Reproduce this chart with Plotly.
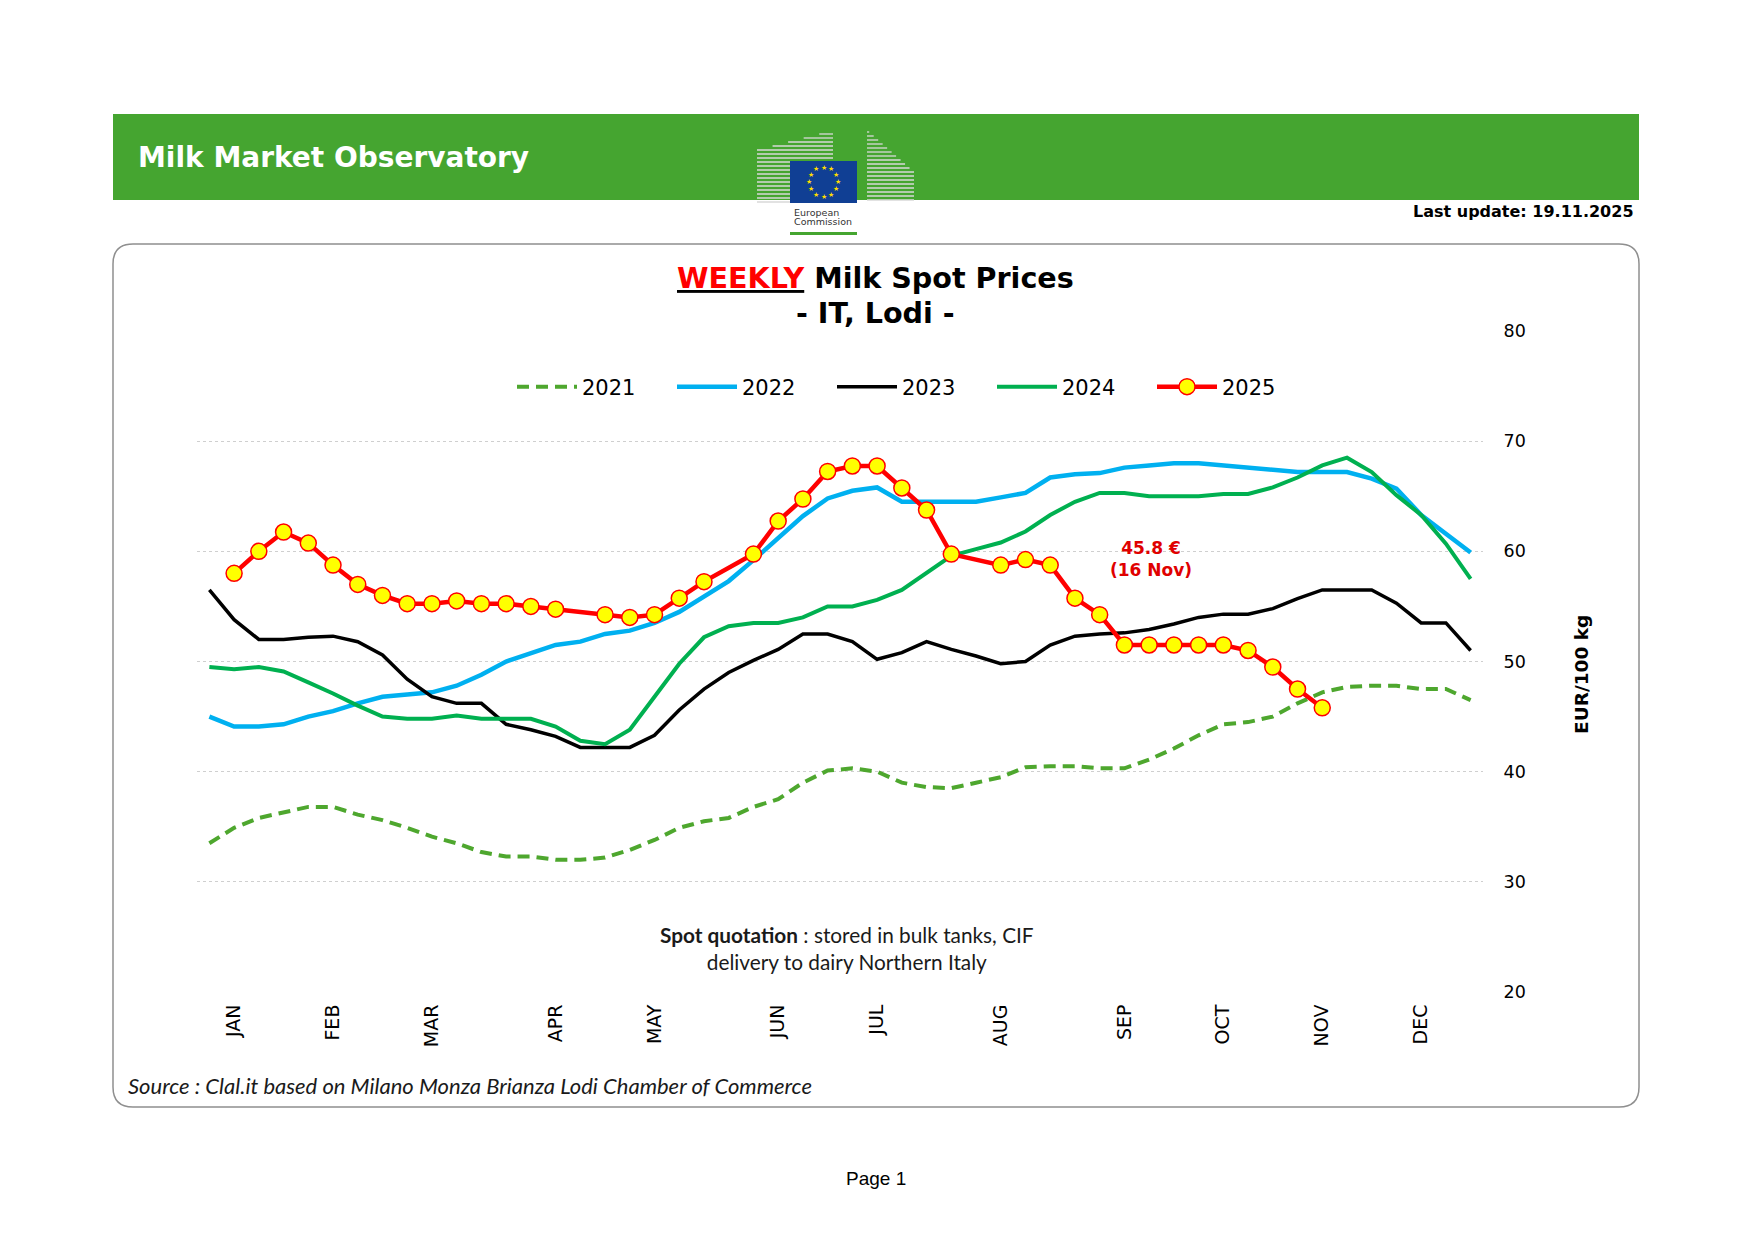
import math
import plotly.graph_objects as go

# weekly Lodi spot milk prices, EUR/100 kg
weeks = list(range(1, 53))
month_weeks = [2, 6, 10, 15, 19, 24, 28, 33, 38, 42, 46, 50]
month_labels = ['JAN', 'FEB', 'MAR', 'APR', 'MAY', 'JUN', 'JUL', 'AUG', 'SEP', 'OCT', 'NOV', 'DEC']
y_ticks = [20, 30, 40, 50, 60, 70, 80]

p2021 = [33.5, 34.9, 35.8, 36.3, 36.8, 36.8, 36.1, 35.6, 34.9, 34.1,
         33.5, 32.7, 32.3, 32.3, 32.0, 32.0, 32.2, 32.9, 33.8, 34.9,
         35.5, 35.8, 36.8, 37.5, 39.0, 40.1, 40.3, 40.0, 39.0, 38.6,
         38.5, 39.0, 39.5, 40.4, 40.5, 40.5, 40.3, 40.3, 41.1, 42.1,
         43.3, 44.3, 44.5, 45.0, 46.2, 47.2, 47.7, 47.8, 47.8, 47.5,
         47.5, 46.5]
p2022 = [45.0, 44.1, 44.1, 44.3, 45.0, 45.5, 46.2, 46.8, 47.0, 47.2,
         47.8, 48.8, 50.0, 50.8, 51.5, 51.8, 52.5, 52.8, 53.5, 54.5,
         55.9, 57.3, 59.2, 61.2, 63.2, 64.8, 65.5, 65.8, 64.5, 64.5,
         64.5, 64.5, 64.9, 65.3, 66.7, 67.0, 67.1, 67.6, 67.8, 68.0,
         68.0, 67.8, 67.6, 67.5, 67.2, 67.2, 67.2, 66.6, 65.7, 63.3,
         61.6, 59.9]
p2023 = [56.5, 53.8, 52.0, 52.0, 52.2, 52.3, 51.8, 50.6, 48.4, 46.8,
         46.2, 46.2, 44.3, 43.8, 43.2, 42.2, 42.2, 42.2, 43.3, 45.6,
         47.5, 49.0, 50.1, 51.1, 52.5, 52.5, 51.8, 50.2, 50.8, 51.8,
         51.1, 50.5, 49.8, 50.0, 51.5, 52.3, 52.5, 52.6, 52.9, 53.4,
         54.0, 54.3, 54.3, 54.8, 55.7, 56.5, 56.5, 56.5, 55.3, 53.5,
         53.5, 51.0]
p2024 = [49.5, 49.3, 49.5, 49.1, 48.1, 47.1, 46.0, 45.0, 44.8, 44.8,
         45.1, 44.8, 44.8, 44.8, 44.1, 42.8, 42.5, 43.8, 46.8, 49.8,
         52.2, 53.2, 53.5, 53.5, 54.0, 55.0, 55.0, 55.6, 56.5, 58.0,
         59.6, 60.2, 60.8, 61.8, 63.3, 64.5, 65.3, 65.3, 65.0, 65.0,
         65.0, 65.2, 65.2, 65.8, 66.7, 67.8, 68.5, 67.2, 65.1, 63.3,
         60.7, 57.5]
p2025 = [None, 58.0, 60.0, 61.75, 60.75, 58.75, 57.0, 56.0, 55.25, 55.25,
         55.5, 55.25, 55.25, 55.0, 54.75, None, 54.25, 54.0, 54.25, 55.75,
         57.25, None, 59.75, 62.75, 64.75, 67.25, 67.75, 67.75, 65.75, 63.75,
         59.75, None, 58.75, 59.25, 58.75, 55.75, 54.25, 51.5, 51.5, 51.5,
         51.5, 51.5, 51.0, 49.5, 47.5, 45.8]

W, H = 1738, 1224          # page minus the 8px body margin
L, T, PW, PH = 189, 323, 1286, 661
FONT = 'DejaVu Sans'


def xp(X):  # page pixel -> paper
    return (X - 8 - L) / PW


def yp(Y):
    return 1 - (Y - 8 - T) / PH


fig = go.Figure()
fig.add_trace(go.Scatter(x=weeks, y=p2021, name='2021', mode='lines',
                         line=dict(color='#4ea72e', width=4, dash='12px,7px')))
fig.add_trace(go.Scatter(x=weeks, y=p2022, name='2022', mode='lines',
                         line=dict(color='#00b0f0', width=4.5)))
fig.add_trace(go.Scatter(x=weeks, y=p2023, name='2023', mode='lines',
                         line=dict(color='#000000', width=3.5)))
fig.add_trace(go.Scatter(x=weeks, y=p2024, name='2024', mode='lines',
                         line=dict(color='#00b050', width=4)))
fig.add_trace(go.Scatter(x=weeks[:len(p2025)], y=p2025, name='2025', mode='lines+markers',
                         connectgaps=True, line=dict(color='#ff0000', width=4.5),
                         marker=dict(size=16, color='#ffff00', line=dict(color='#ff0000', width=1.5))))

shapes = []
# green banner
shapes.append(dict(type='rect', xref='paper', yref='paper', x0=xp(113), x1=xp(1639),
                   y0=yp(200), y1=yp(114), fillcolor='#45a530', line_width=0, layer='below'))

# rounded frame
x0, x1, y0, y1, r = 113, 1639, 244, 1107, 20
pts = [('M', x0 + r, y0), ('L', x1 - r, y0), ('Q', x1, y0, x1, y0 + r), ('L', x1, y1 - r),
       ('Q', x1, y1, x1 - r, y1), ('L', x0 + r, y1), ('Q', x0, y1, x0, y1 - r),
       ('L', x0, y0 + r), ('Q', x0, y0, x0 + r, y0)]
path = ''
for p in pts:
    c = p[0]
    nums = p[1:]
    seg = []
    for i in range(0, len(nums), 2):
        seg.append('%.5f,%.5f' % (xp(nums[i]), yp(nums[i + 1])))
    path += c + ' '.join(seg) + ' '
path += 'Z'
shapes.append(dict(type='path', xref='paper', yref='paper', path=path,
                   line=dict(color='#8f8f8f', width=1.5), layer='below'))

# EC logo: building stripes, flag, underline
for y in range(134, 204, 4):
    xs = 757 if y >= 150 else 757 + (150 - y) / 18 * 70
    shapes.append(dict(type='line', xref='paper', yref='paper', x0=xp(xs), x1=xp(833),
                       y0=yp(y), y1=yp(y), line=dict(color='#d8d8d8', width=1.3)))
for y in range(132, 204, 4):
    xe = 867 + min(1, (y - 130) / 42) * 47
    shapes.append(dict(type='line', xref='paper', yref='paper', x0=xp(867), x1=xp(xe),
                       y0=yp(y), y1=yp(y), line=dict(color='#d8d8d8', width=1.3)))
shapes.append(dict(type='rect', xref='paper', yref='paper', x0=xp(790), x1=xp(857),
                   y0=yp(203), y1=yp(161), fillcolor='#103f94', line_width=0))
shapes.append(dict(type='rect', xref='paper', yref='paper', x0=xp(790), x1=xp(857),
                   y0=yp(235), y1=yp(232), fillcolor='#45a530', line_width=0))

ann = []


def text(s, X, Y, size, color='#000000', xanchor='center', family=FONT, **kw):
    ann.append(dict(text=s, x=xp(X), y=yp(Y), xref='paper', yref='paper', showarrow=False,
                    xanchor=xanchor, yanchor='middle', font=dict(size=size, color=color, family=family), **kw))


for k in range(12):
    a = 2 * math.pi * k / 12
    text('★', 823.5 + 14.5 * math.sin(a), 182 - 14.5 * math.cos(a), 7, '#ffdd00')
text('European', 792, 212, 9.5, '#333333', xanchor='left')
text('Commission', 792, 222, 9.5, '#333333', xanchor='left')

text('<b>Milk Market Observatory</b>', 136, 157, 28, '#ffffff', xanchor='left')
text('<b>Last update: 19.11.2025</b>', 1636, 211, 16, xanchor='right')
text('<b><u><span style="color:#ff0000">WEEKLY</span></u> Milk Spot Prices</b>', 875, 278, 28.6)
text('<b>- IT, Lodi -</b>', 875, 313, 28.6)
text('<b>45.8 €<br>(16 Nov)</b>', 1151, 559, 17, '#e00000')
text('<b>EUR/100 kg</b>', 1581, 674, 18.5, textangle=-90)
text('<b>Spot quotation</b> : stored in bulk tanks, CIF<br>delivery to dairy Northern Italy',
     847, 948, 20.8, '#1a1a1a', family='Lato')
text('<i>Source : Clal.it based on Milano Monza Brianza Lodi Chamber of Commerce</i>',
     126, 1085, 22, '#1a1a1a', xanchor='left', family='Lato')
text('Page 1', 876, 1178, 19, family='Liberation Sans')

fig.update_layout(
    width=W, height=H,
    margin=dict(l=L, r=W - L - PW, t=T, b=H - T - PH),
    paper_bgcolor='white', plot_bgcolor='white',
    font=dict(family=FONT, color='#000000'),
    shapes=shapes, annotations=ann,
    showlegend=True,
    legend=dict(orientation='h', x=xp(912), xanchor='center', y=yp(387), yanchor='middle',
                font=dict(size=21, family=FONT), itemwidth=60, entrywidth=85,
                entrywidthmode='pixels', bgcolor='rgba(0,0,0,0)'),
)
fig.update_xaxes(range=[0.5, 52.5], tickvals=month_weeks, ticktext=month_labels, tickangle=-90,
                 showgrid=False, zeroline=False, showline=False,
                 ticks='outside', ticklen=4, tickcolor='rgba(0,0,0,0)',
                 tickfont=dict(size=19, family=FONT, color='#000000'))
fig.update_yaxes(range=[20, 80], tickvals=y_ticks, side='right',
                 showgrid=True, gridcolor='#cfcfcf', griddash='dot', gridwidth=1,
                 zeroline=False, showline=False,
                 ticks='outside', ticklen=16, tickcolor='rgba(0,0,0,0)',
                 tickfont=dict(size=17.5, family=FONT, color='#000000'))

fig.write_html("out.html")
